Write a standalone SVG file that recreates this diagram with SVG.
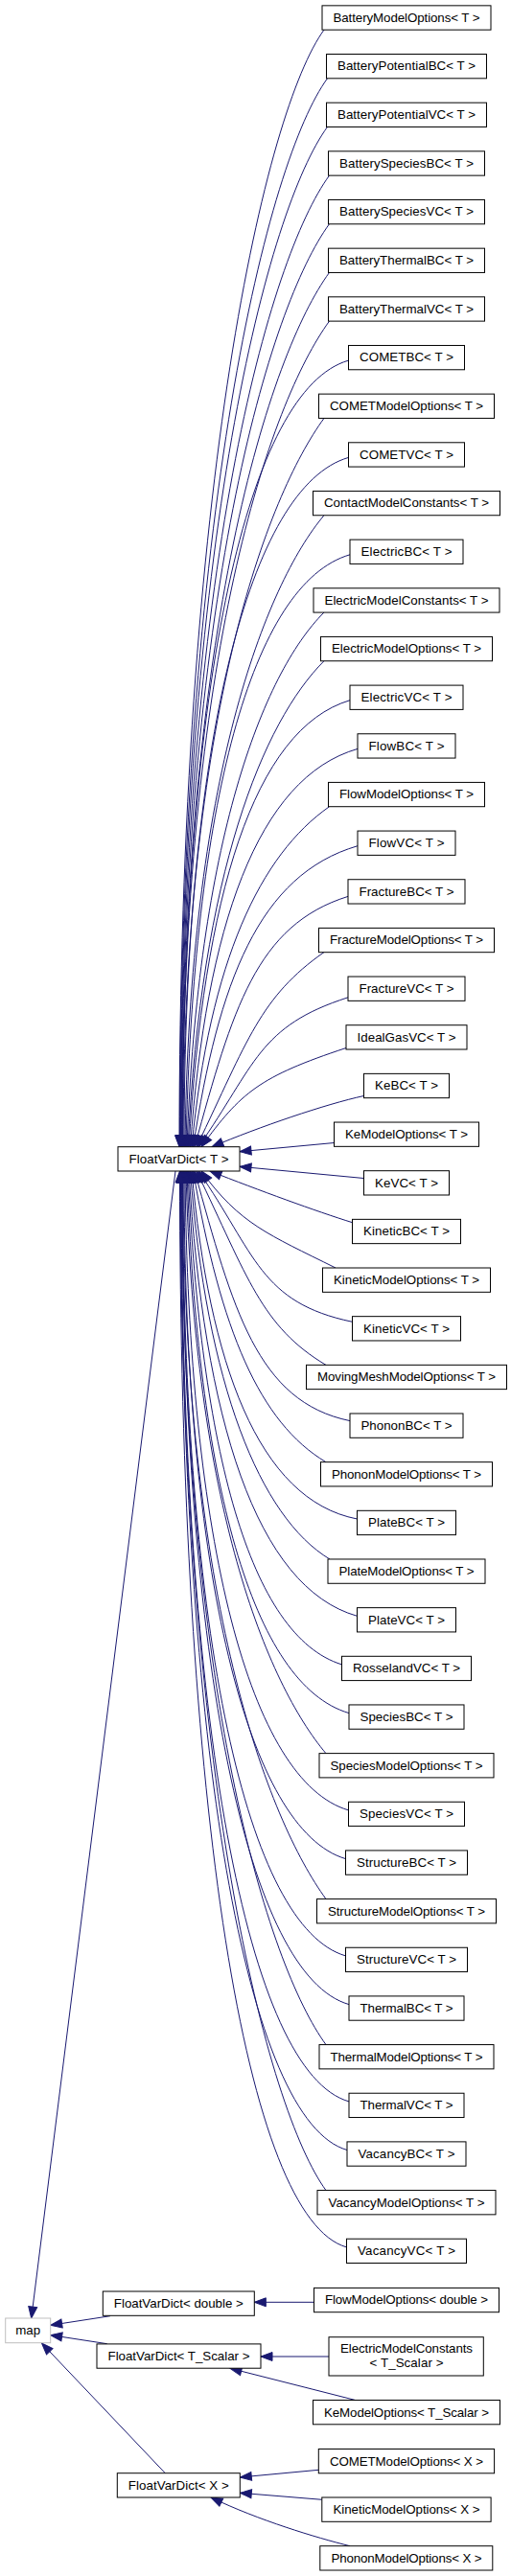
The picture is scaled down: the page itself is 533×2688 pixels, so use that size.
<svg xmlns="http://www.w3.org/2000/svg" width="533" height="2688" viewBox="0 0 533 2688">
<defs>
<marker id="a" markerUnits="userSpaceOnUse" markerWidth="14" markerHeight="11" refX="12" refY="4.5" orient="auto" overflow="visible"><path d="M0,0 L12,4.5 L0,9 Z" fill="#191970" stroke="#191970" stroke-width="1"/></marker>
</defs>
<style>
.e{fill:none;stroke:#191970;stroke-width:1;marker-end:url(#a)}
.n rect{fill:#fff;stroke:#000;stroke-width:1}
.g rect{fill:#fff;stroke:#bfbfbf;stroke-width:1}
text{font-family:"Liberation Sans",Arial,Helvetica,sans-serif;font-size:13.33px;text-anchor:middle;fill:#000}
</style>
<rect x="0" y="0" width="533" height="2688" fill="#fff"/>
<g id="edges">
<path class="e" d="M338,31.1 C277.6,114.2 187,497.3 187,1196.7"/>
<path class="e" d="M341.5,81.8 C279.9,166.5 187.5,527.8 187.5,1196.7"/>
<path class="e" d="M341.5,132.4 C280.1,216.8 188,558.1 188,1196.7"/>
<path class="e" d="M343.5,183.1 C281.5,268.4 188.5,588.5 188.5,1196.7"/>
<path class="e" d="M343.5,233.7 C281.7,318.7 189,618.9 189,1196.7"/>
<path class="e" d="M343.5,284.4 C281.9,369.1 189.5,649.3 189.5,1196.7"/>
<path class="e" d="M343.5,335.1 C282.1,419.5 190,679.7 190,1196.7"/>
<path class="e" d="M363.5,376.1 C259.7,406.1 190.5,704.3 190.5,1196.7"/>
<path class="e" d="M338,436.4 C279.2,517.3 191,744.3 191,1196.7"/>
<path class="e" d="M363.5,477.4 C260.6,507.4 192,772.4 192,1196.7"/>
<path class="e" d="M338,537.7 C277.1,610.2 197,812.9 193,1196.7"/>
<path class="e" d="M365,578.8 C262.4,608.8 201.4,840 194,1196.7"/>
<path class="e" d="M338,639 C273.6,703.4 206.4,879 195,1196.7"/>
<path class="e" d="M338,689.7 C274.1,753.6 210,911.1 196,1196.7"/>
<path class="e" d="M365,730.7 C264.2,760.7 212.4,936.5 197,1196.7"/>
<path class="e" d="M373,781.4 C268.3,811.4 215,967.5 198.5,1196.7"/>
<path class="e" d="M343.5,841.7 C271.8,891.9 218.9,1001.4 200,1196.7"/>
<path class="e" d="M373,882.7 C270.1,912.7 227.9,1024 201.5,1196.7"/>
<path class="e" d="M363,935.4 C267,965.4 242.7,1053 203,1196.7"/>
<path class="e" d="M338,993.6 C271.5,1040.2 258.5,1085 205,1196.7"/>
<path class="e" d="M363,1040.8 C269.4,1070.8 266.7,1111 207,1196.7"/>
<path class="e" d="M361,1093.5 C270.4,1123.5 251.2,1139.9 210,1196.7"/>
<path class="e" d="M379.5,1143.5 C340,1152 270,1176 221,1196.7"/>
<path class="e" d="M348.5,1192.5 L250,1201.7"/>
<path class="e" d="M379.5,1229.5 L250,1217.3"/>
<path class="e" d="M367.5,1275.7 C330,1264 270,1242 219,1222"/>
<path class="e" d="M350,1323 C280,1288 250.4,1277.6 210,1222"/>
<path class="e" d="M367.5,1379.3 C271.2,1359.3 266.6,1308.5 207,1222"/>
<path class="e" d="M340,1424.4 C272.5,1383.9 258.6,1333.3 205,1222"/>
<path class="e" d="M365,1482.6 C267.8,1462.6 242.8,1365.3 203,1222"/>
<path class="e" d="M340,1525.7 C270.8,1484.2 230.2,1389 201.5,1222"/>
<path class="e" d="M372.5,1585 C269,1565 218,1421.6 200,1222"/>
<path class="e" d="M344,1627 C271.3,1583.4 215.2,1445 198.5,1222"/>
<path class="e" d="M372.5,1686.3 C267.2,1656.3 212.5,1481.1 197,1222"/>
<path class="e" d="M356.5,1736.9 C260.2,1706.9 209.6,1512.6 196,1222"/>
<path class="e" d="M364,1787.6 C262.6,1757.6 206,1544.8 195,1222"/>
<path class="e" d="M340,1829.7 C278.7,1756.7 202.2,1572 194,1222"/>
<path class="e" d="M363.5,1888.9 C261.2,1858.9 196.3,1611 193,1222"/>
<path class="e" d="M360.5,1939.6 C259.4,1909.6 192,1645.2 192,1222"/>
<path class="e" d="M340,1981.6 C280.4,1899.6 191,1673.9 191,1222"/>
<path class="e" d="M360.5,2040.9 C258.5,2010.9 190.5,1713.3 190.5,1222"/>
<path class="e" d="M364,2091.6 C259.6,2061.6 190,1743.8 190,1222"/>
<path class="e" d="M340,2133.6 C279.8,2050.8 189.5,1769 189.5,1222"/>
<path class="e" d="M364,2192.9 C259,2162.9 189,1804.5 189,1222"/>
<path class="e" d="M362,2243.5 C257.9,2213.5 188.5,1834.9 188.5,1222"/>
<path class="e" d="M340,2285.6 C279.2,2202 188,1860.2 188,1222"/>
<path class="e" d="M361.5,2344.9 C257.1,2314.9 187.5,1895.7 187.5,1222"/>
<path class="e" d="M183,1222 L32.7,2419"/>
<path class="e" d="M115,2416.7 L52.7,2426.3"/>
<path class="e" d="M111.7,2445.7 L52.7,2436.6"/>
<path class="e" d="M172.3,2580.7 L43.5,2445"/>
<path class="e" d="M327.5,2402.3 L265.3,2402.3"/>
<path class="e" d="M343,2459 L272,2459"/>
<path class="e" d="M370.7,2504.5 L240,2471.3"/>
<path class="e" d="M332.3,2577.3 L250.3,2585"/>
<path class="e" d="M335.8,2608.3 L250.3,2601.3"/>
<path class="e" d="M365,2656.7 C330,2648 270,2630 220,2606"/>
</g>
<g id="n_FloatVarDict_T" class="n"><rect x="123" y="1196.7" width="127" height="25.3"/><text x="186.5" y="1213.6" textLength="104">FloatVarDict&lt; T &gt;</text></g>
<g id="n_map" class="g"><rect x="5.7" y="2419" width="47" height="25.7"/><text x="29.2" y="2436.2">map</text></g>
<g id="n_FloatVarDict_double" class="n"><rect x="107.3" y="2391" width="158" height="25.3"/><text x="186.3" y="2407.9" textLength="135">FloatVarDict&lt; double &gt;</text></g>
<g id="n_FloatVarDict_T_Scalar" class="n"><rect x="101" y="2445.9" width="171" height="25.3"/><text x="186.5" y="2462.8" textLength="148">FloatVarDict&lt; T_Scalar &gt;</text></g>
<g id="n_FloatVarDict_X" class="n"><rect x="122.3" y="2580.7" width="128" height="25.3"/><text x="186.3" y="2597.6" textLength="105">FloatVarDict&lt; X &gt;</text></g>
<g id="n_FlowModelOptions_double" class="n"><rect x="327.5" y="2387.4" width="193" height="25.3"/><text x="424" y="2404.3" textLength="170">FlowModelOptions&lt; double &gt;</text></g>
<g id="n_ElectricModelConstants_T_Scalar" class="n"><rect x="343" y="2438.7" width="161.3" height="40.3"/><text x="424" y="2455.3" textLength="138">ElectricModelConstants</text><text x="424" y="2470.2" textLength="77">&lt; T_Scalar &gt;</text></g>
<g id="n_KeModelOptions_T_Scalar" class="n"><rect x="326.5" y="2504.5" width="195" height="25.3"/><text x="424" y="2521.5" textLength="172">KeModelOptions&lt; T_Scalar &gt;</text></g>
<g id="n_COMETModelOptions_X" class="n"><rect x="332.3" y="2555.5" width="183.3" height="25.3"/><text x="424" y="2572.5" textLength="160">COMETModelOptions&lt; X &gt;</text></g>
<g id="n_KineticModelOptions_X" class="n"><rect x="335.8" y="2606" width="176.3" height="25.3"/><text x="424" y="2623" textLength="153">KineticModelOptions&lt; X &gt;</text></g>
<g id="n_PhononModelOptions_X" class="n"><rect x="333.8" y="2656.7" width="180" height="25.3"/><text x="424" y="2673.6" textLength="157">PhononModelOptions&lt; X &gt;</text></g>
<g id="n00" class="n"><rect x="336" y="5.85" width="176" height="25.3"/><text x="424" y="22.8" textLength="153">BatteryModelOptions&lt; T &gt;</text></g>
<g id="n01" class="n"><rect x="340.5" y="56.51" width="167" height="25.3"/><text x="424" y="73.46" textLength="144">BatteryPotentialBC&lt; T &gt;</text></g>
<g id="n02" class="n"><rect x="340.5" y="107.17" width="167" height="25.3"/><text x="424" y="124.12" textLength="144">BatteryPotentialVC&lt; T &gt;</text></g>
<g id="n03" class="n"><rect x="342.5" y="157.83" width="163" height="25.3"/><text x="424" y="174.78" textLength="140">BatterySpeciesBC&lt; T &gt;</text></g>
<g id="n04" class="n"><rect x="342.5" y="208.49" width="163" height="25.3"/><text x="424" y="225.44" textLength="140">BatterySpeciesVC&lt; T &gt;</text></g>
<g id="n05" class="n"><rect x="342.5" y="259.15" width="163" height="25.3"/><text x="424" y="276.1" textLength="140">BatteryThermalBC&lt; T &gt;</text></g>
<g id="n06" class="n"><rect x="342.5" y="309.81" width="163" height="25.3"/><text x="424" y="326.76" textLength="140">BatteryThermalVC&lt; T &gt;</text></g>
<g id="n07" class="n"><rect x="363.5" y="360.47" width="121" height="25.3"/><text x="424" y="377.42" textLength="98">COMETBC&lt; T &gt;</text></g>
<g id="n08" class="n"><rect x="332.5" y="411.13" width="183" height="25.3"/><text x="424" y="428.08" textLength="160">COMETModelOptions&lt; T &gt;</text></g>
<g id="n09" class="n"><rect x="363.5" y="461.79" width="121" height="25.3"/><text x="424" y="478.74" textLength="98">COMETVC&lt; T &gt;</text></g>
<g id="n10" class="n"><rect x="326.5" y="512.45" width="195" height="25.3"/><text x="424" y="529.4" textLength="172">ContactModelConstants&lt; T &gt;</text></g>
<g id="n11" class="n"><rect x="365" y="563.11" width="118" height="25.3"/><text x="424" y="580.06" textLength="95">ElectricBC&lt; T &gt;</text></g>
<g id="n12" class="n"><rect x="327" y="613.77" width="194" height="25.3"/><text x="424" y="630.72" textLength="171">ElectricModelConstants&lt; T &gt;</text></g>
<g id="n13" class="n"><rect x="334.5" y="664.43" width="179" height="25.3"/><text x="424" y="681.38" textLength="156">ElectricModelOptions&lt; T &gt;</text></g>
<g id="n14" class="n"><rect x="365" y="715.09" width="118" height="25.3"/><text x="424" y="732.04" textLength="95">ElectricVC&lt; T &gt;</text></g>
<g id="n15" class="n"><rect x="373" y="765.75" width="102" height="25.3"/><text x="424" y="782.7" textLength="79">FlowBC&lt; T &gt;</text></g>
<g id="n16" class="n"><rect x="342.5" y="816.41" width="163" height="25.3"/><text x="424" y="833.36" textLength="140">FlowModelOptions&lt; T &gt;</text></g>
<g id="n17" class="n"><rect x="373" y="867.07" width="102" height="25.3"/><text x="424" y="884.02" textLength="79">FlowVC&lt; T &gt;</text></g>
<g id="n18" class="n"><rect x="363" y="917.73" width="122" height="25.3"/><text x="424" y="934.68" textLength="99">FractureBC&lt; T &gt;</text></g>
<g id="n19" class="n"><rect x="332.5" y="968.39" width="183" height="25.3"/><text x="424" y="985.34" textLength="160">FractureModelOptions&lt; T &gt;</text></g>
<g id="n20" class="n"><rect x="363" y="1019.05" width="122" height="25.3"/><text x="424" y="1036" textLength="99">FractureVC&lt; T &gt;</text></g>
<g id="n21" class="n"><rect x="361" y="1069.71" width="126" height="25.3"/><text x="424" y="1086.66" textLength="103">IdealGasVC&lt; T &gt;</text></g>
<g id="n22" class="n"><rect x="379.5" y="1120.37" width="89" height="25.3"/><text x="424" y="1137.32" textLength="66">KeBC&lt; T &gt;</text></g>
<g id="n23" class="n"><rect x="348.5" y="1171.03" width="151" height="25.3"/><text x="424" y="1187.98" textLength="128">KeModelOptions&lt; T &gt;</text></g>
<g id="n24" class="n"><rect x="379.5" y="1221.69" width="89" height="25.3"/><text x="424" y="1238.64" textLength="66">KeVC&lt; T &gt;</text></g>
<g id="n25" class="n"><rect x="367.5" y="1272.35" width="113" height="25.3"/><text x="424" y="1289.3" textLength="90">KineticBC&lt; T &gt;</text></g>
<g id="n26" class="n"><rect x="336.5" y="1323.01" width="175" height="25.3"/><text x="424" y="1339.96" textLength="152">KineticModelOptions&lt; T &gt;</text></g>
<g id="n27" class="n"><rect x="367.5" y="1373.67" width="113" height="25.3"/><text x="424" y="1390.62" textLength="90">KineticVC&lt; T &gt;</text></g>
<g id="n28" class="n"><rect x="319.5" y="1424.33" width="209" height="25.3"/><text x="424" y="1441.28" textLength="186">MovingMeshModelOptions&lt; T &gt;</text></g>
<g id="n29" class="n"><rect x="365" y="1474.99" width="118" height="25.3"/><text x="424" y="1491.94" textLength="95">PhononBC&lt; T &gt;</text></g>
<g id="n30" class="n"><rect x="334.5" y="1525.65" width="179" height="25.3"/><text x="424" y="1542.6" textLength="156">PhononModelOptions&lt; T &gt;</text></g>
<g id="n31" class="n"><rect x="372.5" y="1576.31" width="103" height="25.3"/><text x="424" y="1593.26" textLength="80">PlateBC&lt; T &gt;</text></g>
<g id="n32" class="n"><rect x="342" y="1626.97" width="164" height="25.3"/><text x="424" y="1643.92" textLength="141">PlateModelOptions&lt; T &gt;</text></g>
<g id="n33" class="n"><rect x="372.5" y="1677.63" width="103" height="25.3"/><text x="424" y="1694.58" textLength="80">PlateVC&lt; T &gt;</text></g>
<g id="n34" class="n"><rect x="356.5" y="1728.29" width="135" height="25.3"/><text x="424" y="1745.24" textLength="112">RosselandVC&lt; T &gt;</text></g>
<g id="n35" class="n"><rect x="364" y="1778.95" width="120" height="25.3"/><text x="424" y="1795.9" textLength="97">SpeciesBC&lt; T &gt;</text></g>
<g id="n36" class="n"><rect x="333" y="1829.61" width="182" height="25.3"/><text x="424" y="1846.56" textLength="159">SpeciesModelOptions&lt; T &gt;</text></g>
<g id="n37" class="n"><rect x="363.5" y="1880.27" width="121" height="25.3"/><text x="424" y="1897.22" textLength="98">SpeciesVC&lt; T &gt;</text></g>
<g id="n38" class="n"><rect x="360.5" y="1930.93" width="127" height="25.3"/><text x="424" y="1947.88" textLength="104">StructureBC&lt; T &gt;</text></g>
<g id="n39" class="n"><rect x="330.5" y="1981.59" width="187" height="25.3"/><text x="424" y="1998.54" textLength="164">StructureModelOptions&lt; T &gt;</text></g>
<g id="n40" class="n"><rect x="360.5" y="2032.25" width="127" height="25.3"/><text x="424" y="2049.2" textLength="104">StructureVC&lt; T &gt;</text></g>
<g id="n41" class="n"><rect x="364" y="2082.91" width="120" height="25.3"/><text x="424" y="2099.86" textLength="97">ThermalBC&lt; T &gt;</text></g>
<g id="n42" class="n"><rect x="333" y="2133.57" width="182" height="25.3"/><text x="424" y="2150.52" textLength="159">ThermalModelOptions&lt; T &gt;</text></g>
<g id="n43" class="n"><rect x="364" y="2184.23" width="120" height="25.3"/><text x="424" y="2201.18" textLength="97">ThermalVC&lt; T &gt;</text></g>
<g id="n44" class="n"><rect x="362" y="2234.89" width="124" height="25.3"/><text x="424" y="2251.84" textLength="101">VacancyBC&lt; T &gt;</text></g>
<g id="n45" class="n"><rect x="331" y="2285.55" width="186" height="25.3"/><text x="424" y="2302.5" textLength="163">VacancyModelOptions&lt; T &gt;</text></g>
<g id="n46" class="n"><rect x="361.5" y="2336.21" width="125" height="25.3"/><text x="424" y="2353.16" textLength="102">VacancyVC&lt; T &gt;</text></g>
</svg>
